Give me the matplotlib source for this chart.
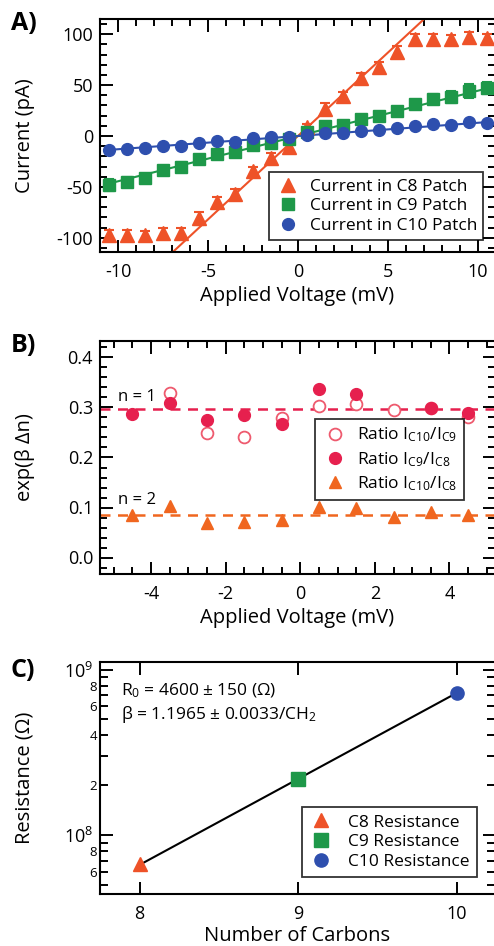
import numpy as np
import matplotlib
matplotlib.use('Agg')
import matplotlib.pyplot as plt
from matplotlib.ticker import MultipleLocator, FixedLocator, LogLocator, FuncFormatter

plt.rcParams['font.family'] = ['Open Sans', 'DejaVu Sans']
plt.rcParams['mathtext.fontset'] = 'custom'
plt.rcParams['mathtext.rm'] = 'Open Sans'
plt.rcParams['mathtext.it'] = 'Open Sans:italic'
plt.rcParams['axes.unicode_minus'] = False

# ---- Panel A data: current vs applied voltage ----
voltage_a = [-10.5, -9.5, -8.5, -7.5, -6.5, -5.5, -4.5, -3.5, -2.5, -1.5, -0.5,
             0.5, 1.5, 2.5, 3.5, 4.5, 5.5, 6.5, 7.5, 8.5, 9.5, 10.5]
current_c8 = [-97, -97, -97, -95, -95, -81, -65, -57, -34, -22, -11,
              9, 27, 39, 57, 68, 83, 95, 95, 95, 97, 96]
err_c8 = [5, 5, 4, 5, 5, 6, 5, 5, 4, 5, 4, 3, 5, 4, 5, 5, 5, 5, 5, 4, 5, 4]
current_c9 = [-48, -45, -41, -33, -30, -23, -18, -16, -9, -7, -3,
              4, 10, 11, 17, 20, 25, 31, 36, 38, 44, 47]
err_c9 = [6, 5, 4, 4, 4, 4, 3, 4, 3, 3, 2, 2, 3, 3, 4, 4, 3, 4, 5, 6, 7, 6]
current_c10 = [-14, -13, -12, -10, -10, -7, -5, -6, -2, -1, -1,
               1, 3, 3, 5, 6, 8, 10, 12, 11, 14, 13]
err_c10 = [1.5] * 22
fit_slopes = {'C8': 16.4, 'C9': 4.45, 'C10': 1.3}  # pA/mV, linear fits through origin

# ---- Panel B data: current ratios ----
voltage_b = [-4.5, -3.5, -2.5, -1.5, -0.5, 0.5, 1.5, 2.5, 3.5, 4.5]
ratio_c10_c9 = [np.nan, 0.328, 0.249, 0.241, 0.278, 0.303, 0.306, 0.295, 0.298, 0.281]
ratio_c9_c8 = [0.287, 0.309, 0.275, 0.285, 0.267, 0.337, 0.327, np.nan, 0.298, 0.290]
ratio_c10_c8 = [0.085, 0.103, 0.070, 0.071, 0.076, 0.101, 0.100, 0.081, 0.091, 0.085]
level_n1 = 0.296
level_n2 = 0.085

# ---- Panel C data: resistance vs number of carbons ----
carbons = [8, 9, 10]
resistance = [6.7e7, 2.18e8, 7.2e8]
R0 = 4600
beta = 1.1965

c_orange = '#EE5228'
c_green = '#1E9849'
c_blue = '#2E4FAE'
c_pink = '#E6204E'
c_pink_open = '#EE5A6E'
c_tri_b = '#F0661F'

LABEL_FS = 14.5
TICK_FS = 13
LEG_FS = 12.5

W, H = 494, 946
fig = plt.figure(figsize=(W / 100, H / 100), dpi=100)


def make_axes(top, bottom, left=100, right=495):
    return fig.add_axes([left / W, 1 - bottom / H, (right - left) / W, (bottom - top) / H])


def style_axes(ax):
    for s in ax.spines.values():
        s.set_linewidth(1.5)
    ax.tick_params(which='both', direction='in', top=True, right=True, width=1.4,
                   labelsize=TICK_FS)
    ax.tick_params(which='major', length=9)
    ax.tick_params(which='minor', length=5)
    ax.tick_params(axis='x', pad=8)
    ax.tick_params(axis='y', pad=5)


def style_legend(leg):
    leg.get_frame().set_linewidth(1.3)
    leg.get_frame().set_edgecolor('black')


# ---------------- Panel A ----------------
axA = make_axes(19, 252)
style_axes(axA)
xs = np.array([-10.5, 10.5])
xs8 = np.array([-8.0, 8.0])
axA.plot(xs8, fit_slopes['C8'] * xs8, color=c_orange, lw=1.5)
axA.plot(xs, fit_slopes['C9'] * xs, color=c_green, lw=1.5)
axA.plot(xs, fit_slopes['C10'] * xs, color=c_blue, lw=1.5)
axA.errorbar(voltage_a, current_c8, yerr=err_c8, fmt='^', color=c_orange, ms=9.5,
             capsize=3.5, elinewidth=1.3, capthick=1.5, label='Current in C8 Patch')
axA.errorbar(voltage_a, current_c9, yerr=err_c9, fmt='s', color=c_green, ms=8.5,
             capsize=3.5, elinewidth=1.3, capthick=1.5, label='Current in C9 Patch')
axA.errorbar(voltage_a, current_c10, yerr=err_c10, fmt='o', color=c_blue, ms=8.5,
             capsize=3, elinewidth=1.2, capthick=1.2, label='Current in C10 Patch')
axA.set_xlim(-11, 10.95)
axA.set_ylim(-114, 115)
axA.xaxis.set_major_locator(MultipleLocator(5))
axA.xaxis.set_minor_locator(MultipleLocator(1))
axA.yaxis.set_major_locator(MultipleLocator(50))
axA.yaxis.set_minor_locator(MultipleLocator(10))
axA.set_xlabel('Applied Voltage (mV)', fontsize=LABEL_FS)
axA.set_ylabel('Current (pA)', fontsize=LABEL_FS)
axA.xaxis.set_label_coords(0.5, -0.146)
axA.yaxis.set_label_coords(-0.165, 0.5)
h, l = axA.get_legend_handles_labels()
h = [hh[0] for hh in h]
leg = axA.legend(h, l, loc='lower right', bbox_to_anchor=(0.97, 0.0515), fontsize=LEG_FS,
                 frameon=True, fancybox=False, borderpad=0.35, borderaxespad=0,
                 handletextpad=0.5, labelspacing=0.2, handlelength=1.5)
style_legend(leg)

# ---------------- Panel B ----------------
axB = make_axes(341, 574)
style_axes(axB)
axB.axhline(level_n1, color=c_pink, lw=1.8, ls=(0, (4, 3)))
axB.axhline(level_n2, color=c_tri_b, lw=1.8, ls=(0, (4, 3)))
axB.plot(voltage_b, ratio_c10_c9, 'o', mfc='white', mec=c_pink_open, mew=1.3, ms=8.5,
         label=r'Ratio I$_{\mathregular{C10}}$/I$_{\mathregular{C9}}$')
axB.plot(voltage_b, ratio_c9_c8, 'o', color=c_pink, ms=8.5,
         label=r'Ratio I$_{\mathregular{C9}}$/I$_{\mathregular{C8}}$')
axB.plot(voltage_b, ratio_c10_c8, '^', color=c_tri_b, ms=8.5,
         label=r'Ratio I$_{\mathregular{C10}}$/I$_{\mathregular{C8}}$')
axB.text(-4.88, 0.3216, 'n = 1', fontsize=12, va='center', ha='left')
axB.text(-4.88, 0.1146, 'n = 2', fontsize=12, va='center', ha='left')
axB.set_xlim(-5.37, 5.22)
axB.set_ylim(-0.033, 0.433)
axB.xaxis.set_major_locator(MultipleLocator(2))
axB.xaxis.set_minor_locator(MultipleLocator(0.5))
axB.yaxis.set_major_locator(MultipleLocator(0.1))
axB.yaxis.set_minor_locator(MultipleLocator(0.02))
axB.yaxis.set_major_formatter(FuncFormatter(lambda v, p: f'{v:.1f}'))
axB.set_xlabel('Applied Voltage (mV)', fontsize=LABEL_FS)
axB.set_ylabel('exp(β Δn)', fontsize=LABEL_FS)
axB.xaxis.set_label_coords(0.5, -0.146)
axB.yaxis.set_label_coords(-0.165, 0.5)
leg = axB.legend(loc='lower right', bbox_to_anchor=(0.922, 0.317), fontsize=LEG_FS,
                 frameon=True, fancybox=False, borderpad=0.4, borderaxespad=0,
                 handletextpad=0.5, labelspacing=0.33, handlelength=1.5)
style_legend(leg)

# ---------------- Panel C ----------------
axC = make_axes(662, 894)
style_axes(axC)
nc = np.array([8.0, 10.0])
axC.plot(nc, R0 * np.exp(beta * nc), color='black', lw=1.5)
axC.plot(carbons[0], resistance[0], '^', color=c_orange, ms=9.5, label='C8 Resistance')
axC.plot(carbons[1], resistance[1], 's', color=c_green, ms=9.5, label='C9 Resistance')
axC.plot(carbons[2], resistance[2], 'o', color=c_blue, ms=9.5, label='C10 Resistance')
axC.set_yscale('log')
axC.set_xlim(7.75, 10.24)
axC.set_ylim(4.4e7, 1.11e9)
axC.xaxis.set_major_locator(FixedLocator([8, 9, 10]))
axC.yaxis.set_major_locator(FixedLocator([1e8, 1e9]))
axC.yaxis.set_major_formatter(FuncFormatter(
    lambda v, p: r'$\mathregular{10^{%d}}$' % round(np.log10(v))))
axC.yaxis.set_minor_locator(LogLocator(base=10, subs=np.arange(2, 10)))


def minor_label(v, p):
    d = int(round(v / 10 ** np.floor(np.log10(v) + 1e-9)))
    return str(d) if d in (2, 4, 6, 8) else ''


axC.yaxis.set_minor_formatter(FuncFormatter(minor_label))
axC.tick_params(axis='y', which='major', labelsize=TICK_FS, pad=5)
axC.tick_params(axis='y', which='minor', labelsize=9.5, pad=2, length=6)
axC.text(0.052, 0.875, r'R$_{\mathregular{0}}$ = 4600 ± 150 (Ω)', transform=axC.transAxes,
         fontsize=12.5, va='center', ha='left')
axC.text(0.052, 0.775, r'β = 1.1965 ± 0.0033/CH$_{\mathregular{2}}$', transform=axC.transAxes,
         fontsize=12.5, va='center', ha='left')
axC.set_xlabel('Number of Carbons', fontsize=LABEL_FS)
axC.set_ylabel('Resistance (Ω)', fontsize=LABEL_FS)
axC.xaxis.set_label_coords(0.5, -0.138)
axC.yaxis.set_label_coords(-0.165, 0.5)
leg = axC.legend(loc='lower right', bbox_to_anchor=(0.954, 0.0745), fontsize=LEG_FS,
                 frameon=True, fancybox=False, borderpad=0.4, borderaxespad=0,
                 handletextpad=0.8, labelspacing=0.2, handlelength=1.5)
style_legend(leg)

# panel letters
for lab, y in [('A)', 24), ('B)', 346), ('C)', 670)]:
    fig.text(11 / W, 1 - y / H, lab, fontsize=18, fontweight='bold', va='center', ha='left')

fig.savefig('out.png', dpi=100)
